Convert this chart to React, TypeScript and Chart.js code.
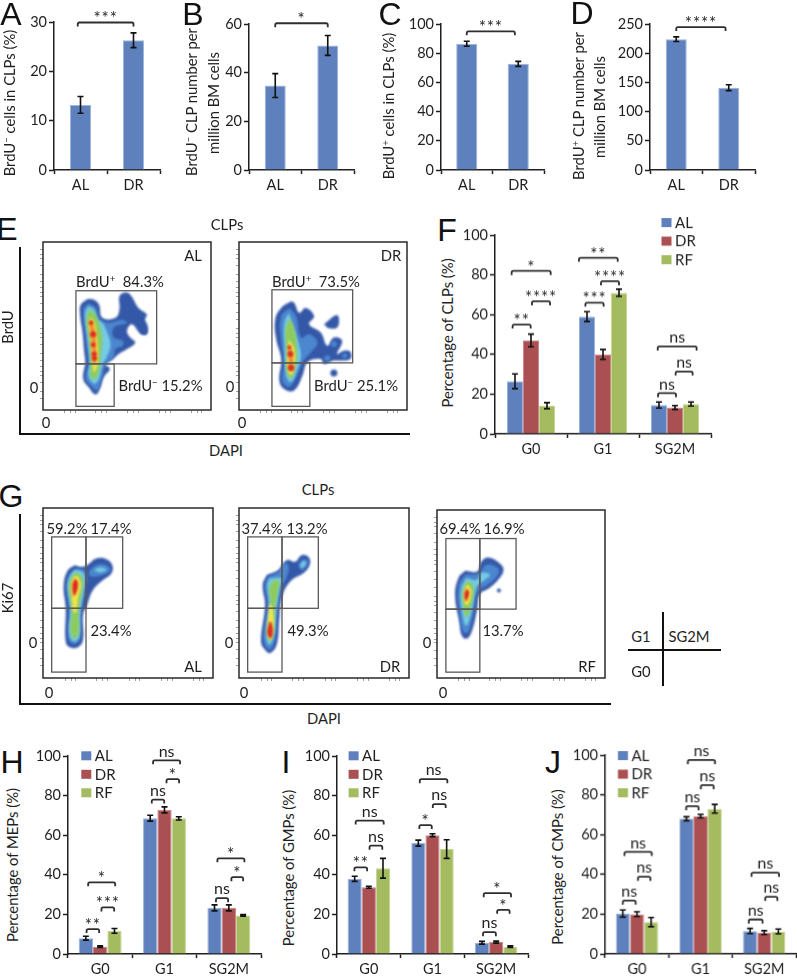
import React, { useEffect, useRef } from 'react';
import { Chart, registerables } from 'chart.js';
Chart.register(...registerables);

const FONT = 'Lato, "Open Sans", sans-serif';
const INK = '#1f1f1f';
const BLUE = '#5e80bd';
const RED = '#ab5052';
const GREEN = '#a4bb60';
const EDGE = { AL: '#9db3da', DR: '#c98889', RF: '#c6d695' };

const twoCats = ['AL', 'DR'];
const phaseCats = ['G0', 'G1', 'SG2M'];
const seriesNames = ['AL', 'DR', 'RF'];

const aVals = [13.2, 26.3]; const aErr = [1.7, 1.5];
const bVals = [34.7, 51.2]; const bErr = [4.9, 4.1];
const cVals = [86.5, 72.7]; const cErr = [1.7, 1.7];
const dVals = [224, 141]; const dErr = [4, 5];

const fAL = [26.5, 59, 14.5]; const fDR = [47, 40, 13.3]; const fRF = [14.2, 71, 15];
const fALe = [3.7, 2.5, 1.5]; const fDRe = [3.2, 2.5, 1]; const fRFe = [1.5, 1.8, 1];
const hAL = [8, 68.6, 23.3]; const hDR = [3.7, 72.8, 23.3]; const hRF = [11.7, 68.5, 19.5];
const hALe = [1, 1.5, 1.5]; const hDRe = [0.4, 1.5, 1.5]; const hRFe = [1.2, 0.8, 0.4];
const iAL = [38, 56, 5.7]; const iDR = [33.7, 60, 6]; const iRF = [43.3, 53, 3.7];
const iALe = [1.3, 1.5, 0.7]; const iDRe = [0.5, 0.7, 0.5]; const iRFe = [5, 4.7, 0.4];
const jAL = [20.3, 68, 11.5]; const jDR = [20, 69.3, 10.7]; const jRF = [16, 73, 11.3];
const jALe = [1.8, 1, 1.3]; const jDRe = [1.2, 0.9, 1]; const jRFe = [2.3, 2.2, 1.2];

// [group, offset in bar widths, group, offset in bar widths, level, label]
type Br = [number, number, number, number, number, string];
const aBr: Br[] = [[0, -0.13, 1, 0, 29.9, '***']];
const bBr: Br[] = [[0, 0, 1, 0, 60.3, '*']];
const cBr: Br[] = [[0, 0, 1, -0.16, 95, '***']];
const dBr: Br[] = [[0, 0, 1, -0.15, 244.8, '****']];
const fBr: Br[] = [
  [0, -1.21, 0, 1.23, 82, '*'], [0, 0.06, 0, 1.19, 66.7, '****'], [0, -1.15, 0, -0.02, 55, '**'],
  [1, -1.5, 1, 0.92, 88.6, '**'], [1, -0.125, 1, 1, 76.8, '****'], [1, -1.1, 1, 0.04, 66, '***'],
  [2, -1.08, 2, 1.35, 44, 'ns'], [2, 0.04, 2, 1.1, 31.4, 'ns'], [2, -1.06, 2, 0.06, 20.5, 'ns'],
];
const hBr: Br[] = [
  [0, -0.84, 0, 1.05, 36.2, '*'], [0, 0.09, 0, 0.98, 23.5, '***'], [0, -0.95, 0, -0.07, 12.6, '**'],
  [1, -0.8, 1, 1.09, 97.8, 'ns'], [1, 0.14, 1, 1.02, 88.3, '*'], [1, -0.89, 1, -0.02, 78, 'ns'],
  [2, -0.8, 2, 1.09, 48.3, '*'], [2, 0.18, 2, 1, 38.8, '*'], [2, -0.9, 2, -0.05, 28.2, 'ns'],
];
const iBr: Br[] = [
  [0, -0.93, 0, 1.05, 67.4, 'ns'], [0, 0.05, 0, 0.95, 54.7, 'ns'], [0, -1.02, 0, -0.12, 43.8, '**'],
  [1, -0.9, 1, 1.05, 88.3, 'ns'], [1, 0.02, 1, 0.93, 75.7, 'ns'], [1, -0.93, 1, -0.05, 65.1, '*'],
  [2, -0.88, 2, 1.05, 30.7, '*'], [2, 0.07, 2, 0.95, 22.3, '*'], [2, -0.93, 2, -0.02, 11, 'ns'],
];
const jBr: Br[] = [
  [0, -0.88, 0, 1.05, 51.3, 'ns'], [0, 0.07, 0, 0.95, 38.8, 'ns'], [0, -1, 0, -0.09, 26.8, 'ns'],
  [1, -0.9, 1, 1.02, 97.5, 'ns'], [1, 0.02, 1, 0.93, 84.9, 'ns'], [1, -1.02, 1, -0.14, 74.3, 'ns'],
  [2, -0.9, 2, 1.05, 40.8, 'ns'], [2, 0.07, 2, 0.93, 28.7, 'ns'], [2, -1.09, 2, -0.12, 17.3, 'ns'],
];

type Pt = [number, number];
type Layer = [string, Pt[]];
type Spot = [string, number, number, number];
const C1 = '#3458a8'; const C2 = '#4c86cf'; const C3 = '#74cbe4'; const C4 = '#8fcb5c';
const C5 = '#f1e24c'; const C6 = '#ee8c30'; const C7 = '#dc2a22';

const eAlLayers: Layer[] = [
  [C1, [[265, 278], [245, 295], [242, 320], [250, 380], [255, 440], [258, 470], [252, 520], [268, 545], [290, 568], [303, 550], [315, 515], [333, 490], [318, 475], [340, 462], [360, 445], [385, 430], [410, 410], [395, 395], [385, 375], [400, 355], [425, 382], [445, 385], [448, 360], [440, 340], [445, 325], [420, 305], [395, 265], [378, 258], [362, 270], [362, 310], [350, 335], [310, 335], [300, 295], [285, 280]]],
  [C2, [[268, 292], [253, 310], [258, 380], [265, 440], [268, 480], [260, 520], [280, 545], [295, 555], [310, 515], [320, 480], [345, 455], [350, 430], [372, 420], [372, 405], [345, 395], [345, 365], [385, 350], [370, 342], [330, 350], [305, 340], [290, 305]]],
  [C3, [[268, 300], [258, 320], [265, 400], [272, 470], [268, 510], [285, 535], [300, 520], [310, 480], [325, 450], [335, 420], [325, 380], [310, 350], [295, 340], [285, 310]]],
  [C4, [[270, 310], [262, 340], [270, 400], [275, 480], [275, 515], [290, 520], [300, 495], [305, 450], [310, 400], [300, 350], [285, 320]]],
  [C5, [[275, 335], [268, 350], [275, 400], [280, 470], [285, 500], [295, 480], [297, 430], [292, 380], [285, 345]]],
  [C6, [[275, 342], [271, 352], [277, 400], [281, 450], [285, 480], [292, 460], [291, 420], [288, 380], [281, 350]]],
];
const eAlSpots: Spot[] = [
  [C7, 276, 350, 2.2], [C7, 282, 385, 3], [C7, 282, 417, 2.4], [C7, 285, 445, 2.6], [C7, 286, 458, 2.6], [C1, 435, 375, 3.5],
];
const eDrLayers: Layer[] = [
  [C1, [[875, 285], [845, 305], [827, 340], [830, 400], [845, 460], [840, 530], [860, 555], [885, 555], [910, 510], [925, 470], [965, 460], [975, 475], [1005, 465], [1025, 465], [1055, 460], [1055, 438], [1035, 435], [1015, 445], [1030, 405], [1005, 395], [985, 420], [965, 380], [930, 355], [945, 330], [920, 305], [900, 320], [885, 290]]],
  [C1, [[975, 355], [1015, 327], [1017, 362], [990, 367]]],
  [C2, [[870, 305], [845, 330], [845, 410], [855, 470], [848, 525], [870, 545], [895, 505], [910, 470], [935, 440], [955, 410], [930, 385], [905, 395], [890, 330]]],
  [C3, [[868, 320], [855, 350], [855, 420], [860, 510], [875, 530], [895, 490], [905, 450], [900, 420], [885, 370]]],
  [C4, [[870, 335], [858, 375], [862, 440], [862, 500], [875, 520], [890, 480], [893, 430], [885, 370]]],
  [C5, [[868, 400], [865, 440], [865, 490], [875, 510], [885, 480], [885, 430]]],
  [C6, [[868, 410], [868, 450], [870, 495], [880, 490], [880, 450]]],
];
const eDrSpots: Spot[] = [
  [C7, 875, 487, 3.2], [C7, 873, 445, 3], [C7, 870, 425, 2], [C1, 1005, 503, 3.5], [C2, 1005, 415, 3], [C2, 985, 458, 3], [C2, 1038, 450, 2.5],
];
const gAlLayers: Layer[] = [
  [C1, [[225, 270], [205, 285], [192, 330], [198, 400], [198, 500], [210, 517], [235, 517], [250, 495], [250, 420], [262, 390], [280, 345], [310, 315], [335, 295], [338, 270], [320, 252], [290, 250], [262, 270], [245, 275]]],
  [C2, [[225, 280], [208, 300], [200, 335], [208, 400], [206, 490], [222, 507], [240, 495], [245, 420], [255, 350], [262, 310], [255, 285]]],
  [C2, [[270, 285], [295, 268], [325, 273], [330, 288], [300, 302], [270, 302]]],
  [C3, [[225, 285], [210, 305], [204, 337], [212, 400], [209, 480], [224, 500], [239, 485], [241, 415], [252, 350], [256, 310], [247, 290]]],
  [C3, [[282, 285], [300, 277], [320, 283], [302, 292]]],
  [C4, [[225, 292], [213, 312], [208, 340], [216, 400], [213, 470], [225, 492], [237, 472], [237, 410], [247, 350], [249, 312], [239, 297]]],
  [C5, [[225, 302], [215, 322], [216, 360], [222, 412], [230, 412], [235, 370], [244, 332], [237, 307]]],
  [C7, [[225, 312], [218, 330], [222, 362], [228, 357], [235, 332], [232, 316]]],
];
const gDrLayers: Layer[] = [
  [C1, [[800, 300], [788, 330], [795, 390], [783, 500], [795, 525], [810, 535], [830, 510], [838, 430], [845, 370], [870, 320], [915, 290], [930, 265], [925, 245], [905, 240], [885, 260], [860, 255], [835, 285]]],
  [C2, [[805, 305], [795, 330], [802, 390], [790, 490], [808, 525], [825, 495], [832, 420], [845, 340], [862, 300], [865, 270], [850, 265], [835, 290]]],
  [C2, [[895, 270], [905, 255], [922, 255], [922, 270], [905, 285]]],
  [C3, [[808, 310], [802, 330], [808, 390], [798, 480], [808, 510], [822, 480], [828, 410], [838, 340], [845, 310]]],
  [C3, [[900, 270], [910, 258], [918, 265], [905, 278]]],
  [C4, [[815, 320], [808, 345], [812, 400], [802, 470], [810, 500], [820, 475], [825, 400], [835, 340], [835, 315]]],
  [C5, [[808, 385], [803, 470], [810, 495], [820, 470], [818, 400]]],
  [C7, [[808, 440], [802, 475], [810, 490], [818, 480], [815, 445]]],
];
const gRfLayers: Layer[] = [
  [C1, [[195, 283], [175, 305], [165, 360], [178, 440], [185, 480], [200, 490], [215, 470], [232, 400], [240, 355], [270, 335], [300, 305], [312, 280], [300, 260], [265, 243], [245, 255], [232, 285]]],
  [C2, [[195, 295], [175, 330], [178, 410], [190, 470], [205, 470], [222, 400], [235, 345], [265, 325], [295, 295], [295, 275], [260, 265], [238, 290]]],
  [C3, [[198, 305], [183, 340], [185, 400], [198, 450], [212, 420], [225, 350], [235, 325], [250, 315], [270, 295], [245, 290], [232, 310]]],
  [C4, [[200, 315], [188, 345], [190, 390], [200, 425], [212, 395], [222, 345], [215, 320]]],
  [C5, [[200, 325], [192, 350], [195, 385], [205, 385], [215, 350], [208, 330]]],
  [C7, [[200, 337], [193, 355], [198, 375], [208, 350]]],
];
const gRfSpots: Spot[] = [[C1, 298, 343, 2]];

// gate rectangles, in the same units as the contours
const eAlGates = [[230, 253, 475, 475], [230, 475, 346, 604]];
const eDrGates = [[817, 250, 1062, 472], [817, 472, 932, 604]];
const gAlGates = [[156, 185, 259, 400], [259, 185, 369, 400], [156, 400, 259, 592]];
const gDrGates = [[743, 185, 846, 400], [846, 185, 955, 400], [743, 400, 846, 592]];
const gRfGates = [[137, 185, 240, 400], [240, 185, 350, 400], [137, 400, 240, 592]];

const flowMajorX = [98, 192, 290, 387, 482];
const flowMinorX = [-14, -32];
const flowMajorY = [50, 165, 290, 405];
const flowMinorY = [-12, -28, 22, 48, 70];

function bracketPath(ctx: any, x1: number, x2: number, y: number) {
  const foot = 4; const r = 1.6;
  ctx.beginPath();
  ctx.moveTo(x1, y + foot);
  ctx.arcTo(x1, y, x1 + r, y, r);
  ctx.arcTo(x2, y, x2, y + r, r);
  ctx.lineTo(x2, y + foot);
  ctx.stroke();
}

function BarPanel(p: any) {
  const ref = useRef<HTMLCanvasElement>(null);
  const topPad = 24; const bottomH = 32; const leftW = 34; const rightPad = 6;
  const left = p.x0 - leftW; const top = p.yTop - topPad;
  const W = p.x1 - p.x0 + leftW + rightPad; const H = p.yBottom - p.yTop + topPad + bottomH;
  useEffect(() => {
    const names = p.series.length > 1 ? seriesNames : ['AL'];
    const colors = [BLUE, RED, GREEN];
    const edges = [EDGE.AL, EDGE.DR, EDGE.RF];
    const extras = {
      id: 'extras',
      afterDatasetsDraw(chart: any) {
        const { ctx } = chart;
        ctx.save();
        ctx.strokeStyle = '#111'; ctx.lineWidth = 1.6;
        p.errors.forEach((errs: number[], d: number) => {
          const meta = chart.getDatasetMeta(d);
          meta.data.forEach((el: any, i: number) => {
            const v = p.series[d][i]; const e = errs[i];
            const y1 = chart.scales.y.getPixelForValue(v + e);
            const y2 = chart.scales.y.getPixelForValue(v - e);
            ctx.beginPath();
            ctx.moveTo(el.x, y1); ctx.lineTo(el.x, y2);
            ctx.moveTo(el.x - 3, y1); ctx.lineTo(el.x + 3, y1);
            ctx.moveTo(el.x - 3, y2); ctx.lineTo(el.x + 3, y2);
            ctx.stroke();
          });
        });
        const barW = chart.getDatasetMeta(0).data[0].width;
        ctx.strokeStyle = '#2e2e2e'; ctx.lineWidth = 1.8;
        ctx.fillStyle = INK; ctx.textAlign = 'center'; ctx.textBaseline = 'middle';
        p.brackets.forEach(([g1, o1, g2, o2, lvl, label]: Br) => {
          const x1 = chart.scales.x.getPixelForValue(g1) + o1 * barW;
          const x2 = chart.scales.x.getPixelForValue(g2) + o2 * barW;
          const y = chart.scales.y.getPixelForValue(lvl);
          bracketPath(ctx, x1, x2, y);
          const stars = label !== 'ns';
          ctx.font = stars ? `17px ${FONT}` : `16px ${FONT}`;
          (ctx as any).letterSpacing = stars ? '0.8px' : '0px';
          ctx.fillText(label, (x1 + x2) / 2, y - (stars ? 3.5 : 9));
        });
        (ctx as any).letterSpacing = '0px';
        if (p.legend) {
          names.forEach((n: string, i: number) => {
            const lx = p.legend[0] - left; const ly = p.legend[1] - top + i * p.legend[2];
            ctx.fillStyle = colors[i];
            ctx.fillRect(lx, ly, 10, 9);
            ctx.fillStyle = INK;
            ctx.textAlign = 'left'; ctx.font = `15px ${FONT}`;
            ctx.fillText(n, lx + 13.5, ly + 5);
          });
        }
        ctx.restore();
      },
    };
    const chart = new Chart(ref.current as any, {
      type: 'bar',
      data: {
        labels: p.cats,
        datasets: p.series.map((s: number[], i: number) => ({
          label: names[i], data: s, backgroundColor: colors[i], borderColor: edges[i], borderWidth: 1,
        })),
      },
      plugins: [extras],
      options: {
        animation: false, responsive: false,
        layout: { padding: { top: topPad, right: rightPad, left: 0, bottom: 0 } },
        plugins: { legend: { display: false }, tooltip: { enabled: false }, title: { display: false } },
        datasets: { bar: { barPercentage: 1, categoryPercentage: p.catPct } },
        scales: {
          x: {
            offset: true,
            grid: { offset: true, drawOnChartArea: false, tickLength: 4, tickColor: INK, tickWidth: 1.5 } as any,
            border: { color: INK, width: 1.5 },
            ticks: { color: INK, font: { family: FONT, size: 14.5 }, padding: 3, maxRotation: 0, autoSkip: false },
            afterFit: (s: any) => { s.height = bottomH; },
          },
          y: {
            min: 0, max: p.max,
            grid: { drawOnChartArea: false, tickLength: 5, tickColor: INK, tickWidth: 1.5 } as any,
            border: { color: INK, width: 1.5 },
            ticks: { stepSize: p.step, color: INK, font: { family: FONT, size: 14.5 }, padding: 2 },
            afterFit: (s: any) => { s.width = leftW; },
          },
        },
      } as any,
    });
    return () => chart.destroy();
  }, []);
  return <canvas ref={ref} width={W} height={H} style={{ position: 'absolute', left, top, width: W, height: H }} />;
}

function FlowPanel(p: any) {
  const ref = useRef<HTMLCanvasElement>(null);
  const pad = 6; const w = 170; const h = p.h || 170;
  const left = p.x - pad; const top = p.y - 2; const W = w + pad + 2; const H = h + pad + 2;
  useEffect(() => {
    const { zx, zy } = p;
    const xt: number[] = []; const yt: number[] = [];
    flowMajorX.forEach((m) => { xt.push(zx + m); flowMinorX.forEach((o) => xt.push(zx + m + o)); });
    flowMajorY.forEach((m) => { yt.push(zy + m); flowMinorY.forEach((o) => yt.push(zy + m + o)); });
    const layers: any[] = p.layers.map(([color, pts]: Layer, i: number) => ({
      type: 'line', order: p.layers.length - i + 2,
      data: [...pts, pts[0]].map(([x, y]) => ({ x, y })),
      backgroundColor: color, borderColor: color, borderWidth: 0, pointRadius: 0,
      tension: 0.42, fill: 'shape',
    }));
    const spots: any[] = (p.spots || []).map(([color, x, y, r]: Spot) => ({
      type: 'bubble', order: 1, data: [{ x, y, r }], backgroundColor: color, borderWidth: 0,
    }));
    const deco = {
      id: 'deco',
      beforeDatasetsDraw(chart: any) { chart.ctx.save(); (chart.ctx as any).filter = 'blur(1.1px)'; },
      afterDatasetsDraw(chart: any) {
        const { ctx, chartArea: a, scales } = chart;
        ctx.restore();
        ctx.save();
        ctx.strokeStyle = '#5a5a5a'; ctx.lineWidth = 1.3;
        p.gates.forEach(([x1, y1, x2, y2]: number[]) => {
          const X1 = scales.x.getPixelForValue(x1); const X2 = scales.x.getPixelForValue(x2);
          const Y1 = scales.y.getPixelForValue(y1); const Y2 = scales.y.getPixelForValue(y2);
          ctx.strokeRect(X1, Y1, X2 - X1, Y2 - Y1);
        });
        ctx.strokeStyle = '#2a2a2a'; ctx.lineWidth = 1.5;
        ctx.strokeRect(a.left, a.top, a.right - a.left, a.bottom - a.top);
        ctx.restore();
      },
    };
    const chart = new Chart(ref.current as any, {
      type: 'line',
      data: { datasets: [...spots, ...layers] },
      plugins: [deco],
      options: {
        animation: false, responsive: false,
        layout: { padding: { top: 2, right: 2, left: 0, bottom: 0 } },
        plugins: { legend: { display: false }, tooltip: { enabled: false } },
        scales: {
          x: {
            type: 'linear', min: zx, max: zx + 510,
            afterBuildTicks: (s: any) => { s.ticks = xt.map((value) => ({ value })); },
            ticks: { display: false },
            grid: { drawOnChartArea: false, tickLength: 3, tickColor: '#888', tickWidth: 0.8 } as any,
            border: { display: false },
            afterFit: (s: any) => { s.height = pad; },
          },
          y: {
            type: 'linear', reverse: true, min: zy, max: zy + h * 3,
            afterBuildTicks: (s: any) => { s.ticks = yt.map((value) => ({ value })); },
            ticks: { display: false },
            grid: { drawOnChartArea: false, tickLength: 3, tickColor: '#888', tickWidth: 0.8 } as any,
            border: { display: false },
            afterFit: (s: any) => { s.width = pad; },
          },
        },
      } as any,
    });
    return () => chart.destroy();
  }, []);
  return <canvas ref={ref} width={W} height={H} style={{ position: 'absolute', left, top, width: W, height: H }} />;
}

type Lb = { t: string; x: number; y: number; rot?: boolean; sup?: string; post?: string };
const panelLetters: Lb[] = [
  { t: 'A', x: 11, y: 14 }, { t: 'B', x: 193, y: 14 }, { t: 'C', x: 390, y: 14 }, { t: 'D', x: 582, y: 13 },
  { t: 'E', x: 7, y: 229 }, { t: 'F', x: 447, y: 230 }, { t: 'G', x: 11, y: 496 },
  { t: 'H', x: 12, y: 762 }, { t: 'I', x: 286, y: 762 }, { t: 'J', x: 553, y: 762 },
];
const axisTitles: Lb[] = [
  { t: 'BrdU', sup: '\u2212', post: ' cells in CLPs (%)', x: 9, y: 103, rot: true },
  { t: 'BrdU', sup: '\u2212', post: ' CLP number per', x: 191, y: 102, rot: true },
  { t: 'million BM cells', x: 213, y: 103, rot: true },
  { t: 'BrdU', sup: '+', post: ' cells in CLPs (%)', x: 388, y: 106, rot: true },
  { t: 'BrdU', sup: '+', post: ' CLP number per', x: 578, y: 106, rot: true },
  { t: 'million BM cells', x: 599, y: 107, rot: true },
  { t: 'Percentage of CLPs (%)', x: 447, y: 333, rot: true },
  { t: 'Percentage of MEPs (%)', x: 12, y: 865, rot: true },
  { t: 'Percentage of GMPs (%)', x: 288, y: 868, rot: true },
  { t: 'Percentage of CMPs (%)', x: 557, y: 867, rot: true },
];
const flowTexts: Lb[] = [
  { t: 'CLPs', x: 227, y: 224 }, { t: 'DAPI', x: 226, y: 450 }, { t: 'BrdU', x: 7, y: 327, rot: true },
  { t: 'AL', x: 193, y: 255 }, { t: 'DR', x: 391, y: 255 },
  { t: 'BrdU', sup: '+', post: '  84.3%', x: 120, y: 281 }, { t: 'BrdU', sup: '\u2212', post: ' 15.2%', x: 160.5, y: 385 },
  { t: 'BrdU', sup: '+', post: '  73.5%', x: 316, y: 281 }, { t: 'BrdU', sup: '\u2212', post: ' 25.1%', x: 356, y: 385 },
  { t: '0', x: 34, y: 387 }, { t: '0', x: 46, y: 422 }, { t: '0', x: 230, y: 386 }, { t: '0', x: 242, y: 422 },
  { t: 'CLPs', x: 318, y: 489 }, { t: 'DAPI', x: 324, y: 718 }, { t: 'Ki67', x: 7, y: 598, rot: true },
  { t: '59.2%', x: 67, y: 528 }, { t: '17.4%', x: 111, y: 528 }, { t: '23.4%', x: 111, y: 630 }, { t: 'AL', x: 193, y: 666 },
  { t: '37.4%', x: 262, y: 528 }, { t: '13.2%', x: 307, y: 528 }, { t: '49.3%', x: 308, y: 630 }, { t: 'DR', x: 390, y: 666 },
  { t: '69.4%', x: 460, y: 528 }, { t: '16.9%', x: 504, y: 528 }, { t: '13.7%', x: 503, y: 630 }, { t: 'RF', x: 587, y: 666 },
  { t: '0', x: 33, y: 642 }, { t: '0', x: 49, y: 692 }, { t: '0', x: 229, y: 642 }, { t: '0', x: 244, y: 692 }, { t: '0', x: 427, y: 642 }, { t: '0', x: 443, y: 692 },
  { t: 'G1', x: 641, y: 636 }, { t: 'SG2M', x: 689, y: 636 }, { t: 'G0', x: 641, y: 671 },
];
const lines = [
  [19, 247, 2, 188], [19, 433, 391, 2], [19, 514, 2, 190], [19, 703, 592, 2],
  [662, 612, 2, 74], [628, 649, 93, 2],
];

function Text({ l, letter }: { l: Lb; letter?: boolean }) {
  return (
    <div style={{
      position: 'absolute', left: l.x, top: l.y, whiteSpace: 'pre', lineHeight: 1,
      transform: `translate(-50%,-50%)${l.rot ? ' rotate(-90deg)' : ''}`,
      fontFamily: letter ? '"Liberation Sans", sans-serif' : FONT,
      fontSize: letter ? 32 : 14.8, color: letter ? '#111' : INK,
    }}>
      {l.t}
      {l.sup ? <span style={{ fontSize: '0.65em', verticalAlign: '0.45em', lineHeight: 0 }}>{l.sup}</span> : null}
      {l.post || ''}
    </div>
  );
}

export default function App() {
  return (
    <div style={{ position: 'absolute', left: 0, top: 0, width: 797, height: 976, overflow: 'hidden', background: '#fff' }}>
      <BarPanel x0={54} x1={160} yTop={22} yBottom={170} max={30} step={10} cats={twoCats} series={[aVals]} errors={[aErr]} brackets={aBr} catPct={0.4} />
      <BarPanel x0={249} x1={354} yTop={24} yBottom={170} max={60} step={20} cats={twoCats} series={[bVals]} errors={[bErr]} brackets={bBr} catPct={0.4} />
      <BarPanel x0={441} x1={544} yTop={24} yBottom={170} max={100} step={20} cats={twoCats} series={[cVals]} errors={[cErr]} brackets={cBr} catPct={0.41} />
      <BarPanel x0={650} x1={755} yTop={24} yBottom={170} max={250} step={50} cats={twoCats} series={[dVals]} errors={[dErr]} brackets={dBr} catPct={0.4} />
      <BarPanel x0={494.5} x1={711} yTop={235} yBottom={433.5} max={100} step={20} cats={phaseCats} series={[fAL, fDR, fRF]} errors={[fALe, fDRe, fRFe]} brackets={fBr} catPct={0.667} legend={[661, 218, 18.5]} />
      <BarPanel x0={67.7} x1={261} yTop={755.7} yBottom={954.3} max={100} step={20} cats={phaseCats} series={[hAL, hDR, hRF]} errors={[hALe, hDRe, hRFe]} brackets={hBr} catPct={0.667} legend={[81, 751, 18.5]} />
      <BarPanel x0={336.7} x1={527.7} yTop={755.7} yBottom={954.3} max={100} step={20} cats={phaseCats} series={[iAL, iDR, iRF]} errors={[iALe, iDRe, iRFe]} brackets={iBr} catPct={0.667} legend={[348.3, 751, 18.5]} />
      <BarPanel x0={605.3} x1={796} yTop={755} yBottom={953.7} max={100} step={20} cats={phaseCats} series={[jAL, jDR, jRF]} errors={[jALe, jDRe, jRFe]} brackets={jBr} catPct={0.667} legend={[618, 751, 18.5]} />

      <FlowPanel x={43.3} y={240} zx={130} zy={105} layers={eAlLayers} spots={eAlSpots} gates={eAlGates} />
      <FlowPanel x={239} y={240} zx={717} zy={105} layers={eDrLayers} spots={eDrSpots} gates={eDrGates} />
      <FlowPanel x={43.3} y={507.7} zx={130} zy={98} h={170.6} layers={gAlLayers} gates={gAlGates} />
      <FlowPanel x={239} y={507.7} zx={717} zy={98} h={170.6} layers={gDrLayers} gates={gDrGates} />
      <FlowPanel x={436.7} y={507.7} zx={110} zy={98} h={170.6} layers={gRfLayers} spots={gRfSpots} gates={gRfGates} />

      {lines.map(([x, y, w, h], i) => (
        <div key={i} style={{ position: 'absolute', left: x, top: y, width: w, height: h, background: '#111' }} />
      ))}
      {panelLetters.map((l, i) => <Text key={i} l={l} letter />)}
      {axisTitles.map((l, i) => <Text key={i} l={l} />)}
      {flowTexts.map((l, i) => <Text key={i} l={l} />)}
    </div>
  );
}
